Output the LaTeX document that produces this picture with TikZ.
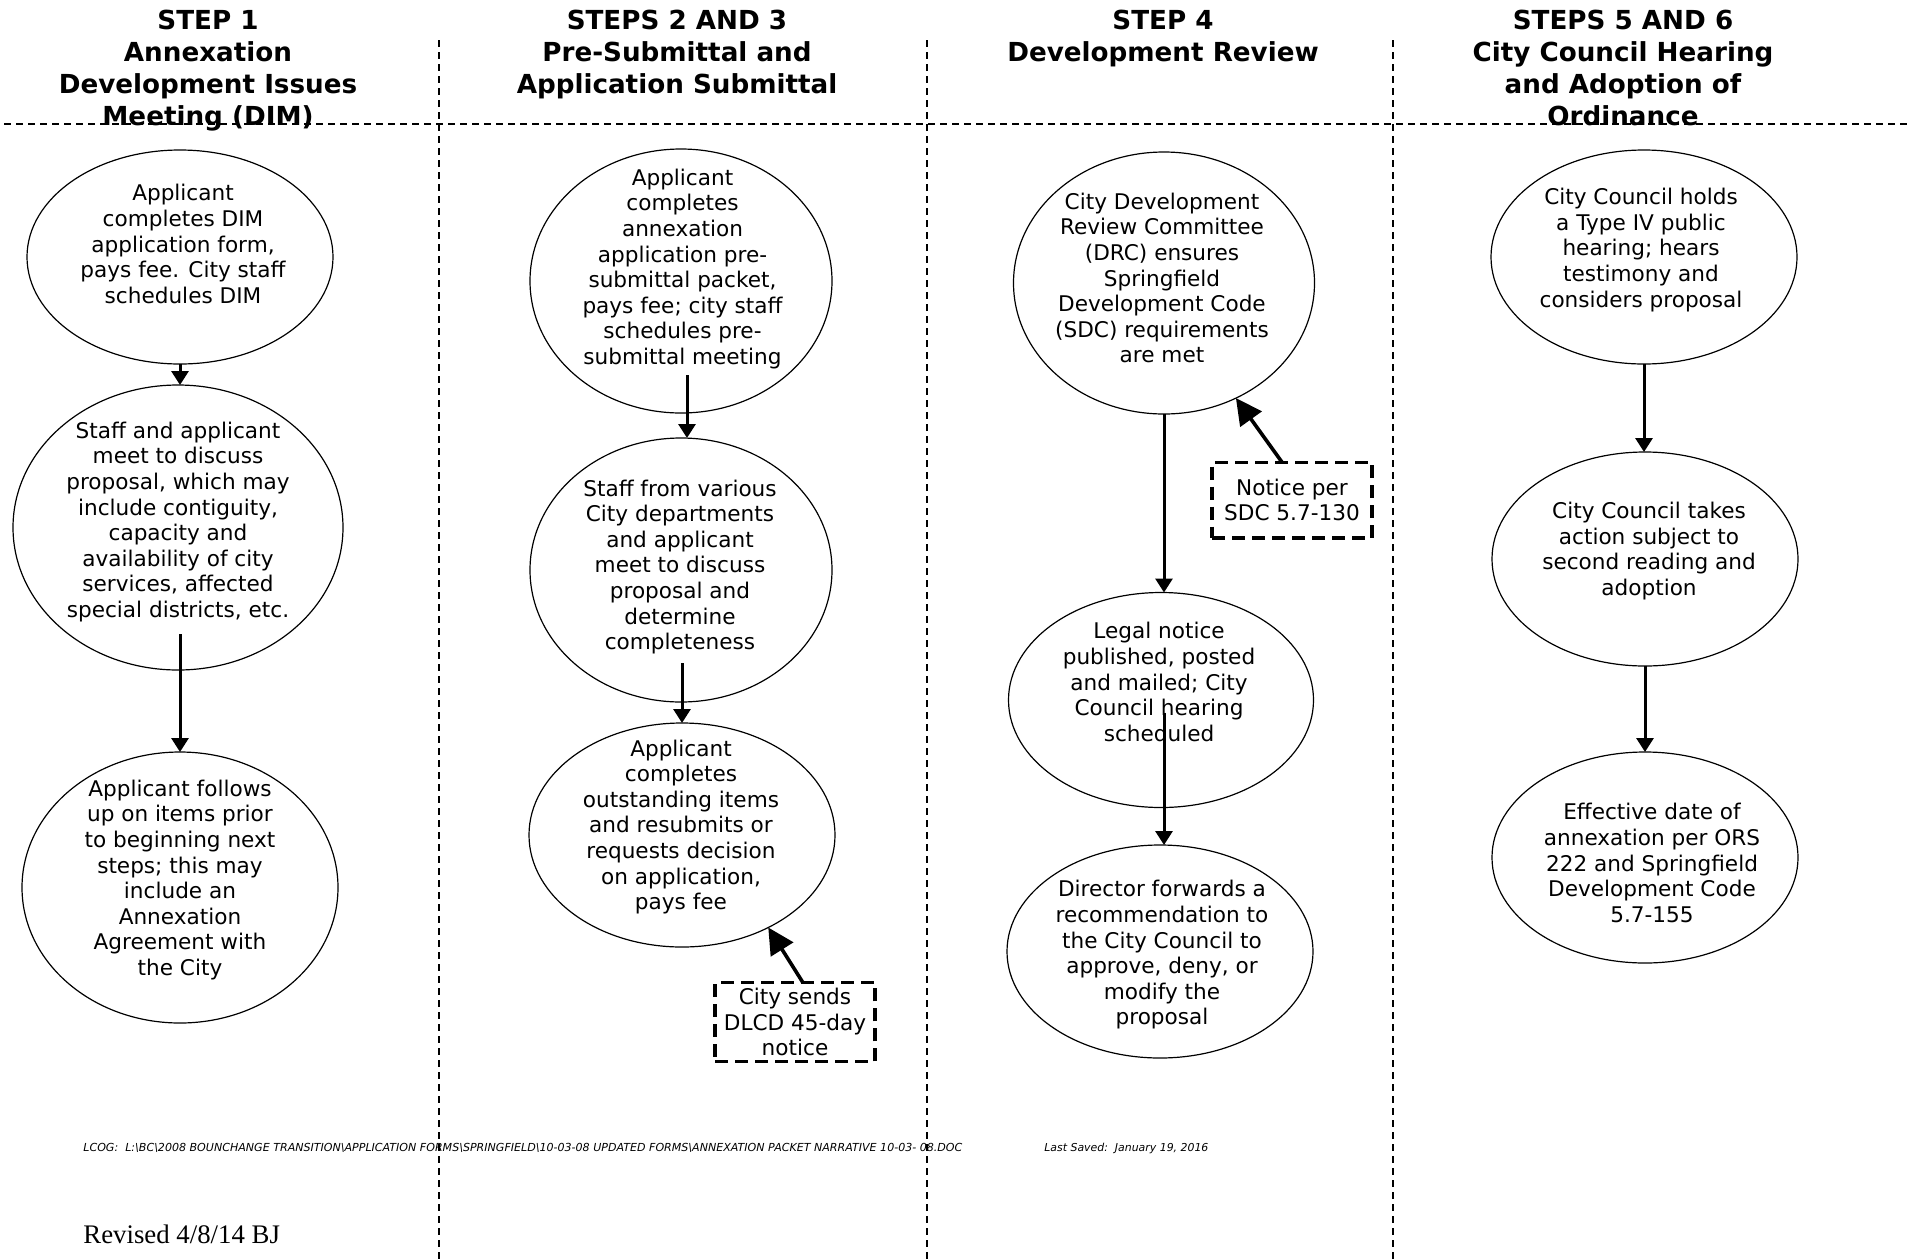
\documentclass[tikz,border=0pt]{standalone}
\usepackage{fontspec}
\usepackage{graphicx}
\setmainfont{DejaVu Sans}
\newfontfamily\revfont{Liberation Serif}
\usetikzlibrary{shapes.geometric,arrows.meta}

\begin{document}
\begin{tikzpicture}[x=0.5pt,y=-0.5pt,
  bubble/.style={draw,ellipse,line width=0.6pt,inner sep=0pt,outer sep=0pt},
  btext/.style={align=center,inner sep=0pt,font=\fontsize{10.8pt}{12.8pt}\selectfont},
  head/.style={align=center,inner sep=0pt,anchor=north,font=\fontsize{13.1pt}{16pt}\selectfont\bfseries},
  flow/.style={line width=1.5pt,-{Triangle[length=7pt,width=8.5pt]}},
  notearrow/.style={line width=1.8pt,-{Triangle[length=13pt,width=13pt]}},
  notebox/.style={draw,line width=1.7pt,dash pattern=on 6.5pt off 3.5pt,align=center,inner sep=0pt,outer sep=0pt,minimum width=80pt,font=\fontsize{10.8pt}{12.8pt}\selectfont},
  divider/.style={line width=0.7pt,dash pattern=on 3.6pt off 2.4pt},
  foottext/.style={anchor=base west,inner sep=0pt}
]
\useasboundingbox (0,0) rectangle (1912,1259);

% headers
\node[head] (h1) at (208,9.2) {STEP 1\\Annexation\\Development Issues\\Meeting (DIM)};
\node[head] (h2) at (677,9.2) {STEPS 2 AND 3\\Pre-Submittal and\\Application Submittal};
\node[head] (h3) at (1163,9.2) {STEP 4\\Development Review};
\node[head] (h4) at (1623,9.2) {STEPS 5 AND 6\\City Council Hearing\\and Adoption of\\Ordinance};

% dividers
\draw[divider] (4,124) -- (1908,124);
\draw[divider] (439,40) -- (439,1259);
\draw[divider] (927,40) -- (927,1259);
\draw[divider] (1393,40) -- (1393,1259);

% ellipses
\node[bubble,minimum width=153pt,minimum height=107pt] (e1) at (180,257) {};
\node[bubble,minimum width=165pt,minimum height=142.5pt] (e2) at (178,527.5) {};
\node[bubble,minimum width=158pt,minimum height=135.5pt] (e3) at (180,887.5) {};
\node[bubble,minimum width=151pt,minimum height=132pt] (e4) at (681,281) {};
\node[bubble,minimum width=151pt,minimum height=132pt] (e5) at (681,570) {};
\node[bubble,minimum width=153pt,minimum height=112pt] (e6) at (682,835) {};
\node[bubble,minimum width=150.5pt,minimum height=131pt] (e7) at (1164,283) {};
\node[bubble,minimum width=152.5pt,minimum height=107.5pt] (e8) at (1161,700) {};
\node[bubble,minimum width=153pt,minimum height=106.5pt] (e9) at (1160,951.5) {};
\node[bubble,minimum width=153pt,minimum height=107pt] (e10) at (1644,257) {};
\node[bubble,minimum width=153pt,minimum height=107pt] (e11) at (1645,559) {};
\node[bubble,minimum width=153pt,minimum height=105.5pt] (e12) at (1645,857.5) {};

% texts
\node[btext] (t1) at (183,244) {Applicant\\completes DIM\\application form,\\pays fee. City staff\\schedules DIM};
\node[btext] (t2) at (178,522) {Staff and applicant\\meet to discuss\\proposal, which may\\include contiguity,\\capacity and\\availability of city\\services, affected\\special districts, etc.};
\node[btext] (t3) at (180,880) {Applicant follows\\up on items prior\\to beginning next\\steps; this may\\include an\\Annexation\\Agreement with\\the City};
\node[btext] (t4) at (682.5,269) {Applicant\\completes\\annexation\\application pre-\\submittal packet,\\pays fee; city staff\\schedules pre-\\submittal meeting};
\node[btext] (t5) at (680,567) {Staff from various\\City departments\\and applicant\\meet to discuss\\proposal and\\determine\\completeness};
\node[btext] (t6) at (681,827) {Applicant\\completes\\outstanding items\\and resubmits or\\requests decision\\on application,\\pays fee};
\node[btext] (t7) at (1162,278) {City Development\\Review Committee\\(DRC) ensures\\Springfield\\Development Code\\(SDC) requirements\\are met};
\node[btext] (t8) at (1159,682) {Legal notice\\published, posted\\and mailed; City\\Council hearing\\scheduled};
\node[btext] (t9) at (1162,955) {Director forwards a\\recommendation to\\the City Council to\\approve, deny, or\\modify the\\proposal};
\node[btext] (t10) at (1641,250) {City Council holds\\a Type IV public\\hearing; hears\\testimony and\\considers proposal};
\node[btext] (t11) at (1649,551) {City Council takes\\action subject to\\second reading and\\adoption};
\node[btext] (t12) at (1652,863) {Effective date of\\annexation per ORS\\222 and Springfield\\Development Code\\5.7-155};

% note boxes
\node[notebox,minimum height=39.3pt] (b1) at (795,1022) {City sends\\DLCD 45-day\\notice};
\node[notebox,minimum height=37.8pt] (b2) at (1292,500) {Notice per\\SDC 5.7-130};

% flow arrows
\draw[flow] (e1.south) -- (e1.south |- e2.north);
\draw[flow] ([yshift=18pt]e3.north |- e2.south) -- (e3.north);
\draw[flow] ([xshift=3pt,yshift=19pt]e4.south) -- ([xshift=3pt]e5.north);
\draw[flow] ([yshift=19.5pt]e6.north |- e5.south) -- (e6.north);
\draw[flow] (e7.south) -- (e7.south |- e8.north);
\draw[flow] ([xshift=2pt,yshift=47.5pt]e9.north |- e8.south) -- ([xshift=2pt]e9.north);
\draw[flow] (e10.south) -- (e10.south |- e11.north);
\draw[flow] (e11.south) -- (e11.south |- e12.north);

% note arrows
\draw[notearrow] ([xshift=4pt]b1.north) -- (e6.-47.6);
\draw[notearrow] ([xshift=-5pt]b2.north) -- (e7.-58);

% footer
\node[foottext] (f1) at (83,1151) {\resizebox{439.5pt}{!}{\fontsize{5.5pt}{6.6pt}\selectfont\itshape LCOG:\ \ L:\textbackslash BC\textbackslash 2008 BOUNCHANGE TRANSITION\textbackslash APPLICATION FORMS\textbackslash SPRINGFIELD\textbackslash 10-03-08 UPDATED FORMS\textbackslash ANNEXATION PACKET NARRATIVE 10-03- 08.DOC}};
\node[foottext] (f2) at (1044,1151) {\resizebox{82pt}{!}{\fontsize{5.5pt}{6.6pt}\selectfont\itshape Last Saved:\ \ January 19, 2016}};
\node[foottext,font=\revfont\fontsize{13.4pt}{16pt}\selectfont] (rev) at (83,1243) {Revised 4/8/14 BJ};
\end{tikzpicture}
\end{document}
